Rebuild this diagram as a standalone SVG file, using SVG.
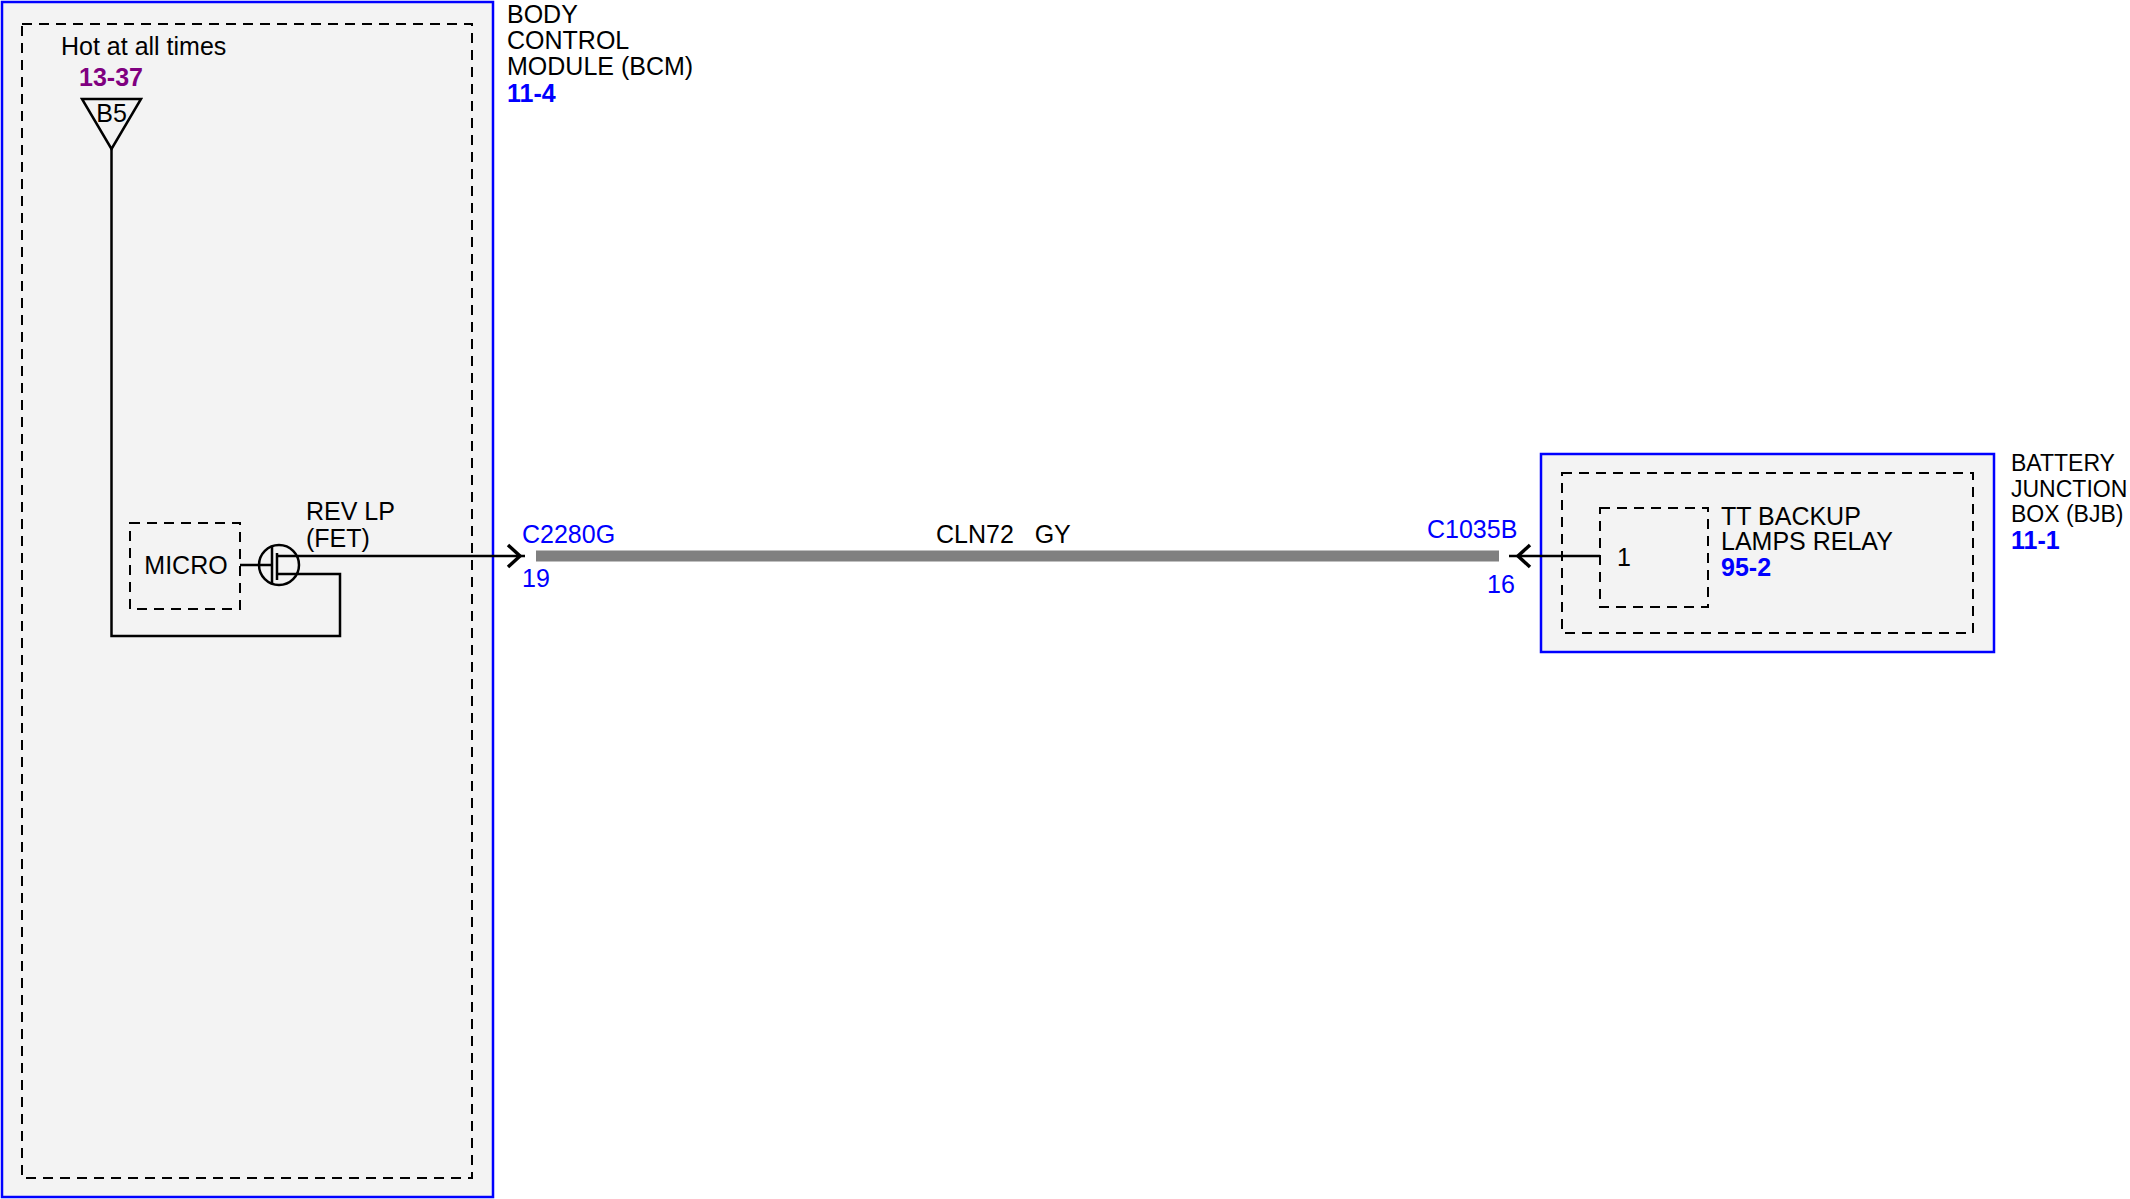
<svg xmlns="http://www.w3.org/2000/svg" width="2130" height="1199" viewBox="0 0 2130 1199">
<style>
text{font-family:"Liberation Sans",Arial,sans-serif;font-size:25px;fill:#000}
.b{fill:#0000ff}
.bb{fill:#0000ff;font-weight:bold}
.p{fill:#800080;font-weight:bold}
.sm{font-size:23px}
.mod{fill:#f3f3f3;stroke:#0000ff;stroke-width:2.5}
.dash{fill:none;stroke:#000;stroke-width:2;stroke-dasharray:10,7}
.w{fill:none;stroke:#000;stroke-width:2.5}
.ch{fill:none;stroke:#000;stroke-width:3.5}
</style>
<rect width="2130" height="1199" fill="#fff"/>
<g id="bcm">
<rect class="mod" x="2" y="2" width="491" height="1195"/>
<rect class="dash" x="22" y="24" width="450" height="1154"/>
<text x="507" y="23">BODY</text>
<text x="507" y="49">CONTROL</text>
<text x="507" y="75">MODULE (BCM)</text>
<text class="bb" x="507" y="102">11-4</text>
<text x="61" y="55">Hot at all times</text>
<text class="p" x="79" y="86">13-37</text>
<path class="w" d="M82,99 L141,99 L111.5,149 Z"/>
<text x="111.5" y="122" text-anchor="middle">B5</text>
<rect class="dash" x="130" y="523" width="110" height="86"/>
<text x="186" y="574" text-anchor="middle">MICRO</text>
<text x="306" y="520">REV LP</text>
<text x="306" y="547">(FET)</text>
<circle class="w" cx="279" cy="565" r="20"/>
<path class="w" d="M240,565 H272 M272,547 V583 M277,553 V580"/>
</g>
<g id="bjb">
<rect class="mod" x="1541" y="454" width="453" height="198"/>
<rect class="dash" x="1562" y="473" width="411" height="160"/>
<rect class="dash" x="1600" y="508" width="108" height="99"/>
<text x="1617" y="566">1</text>
<text x="1721" y="525">TT BACKUP</text>
<text x="1721" y="550">LAMPS RELAY</text>
<text class="bb" x="1721" y="576">95-2</text>
<text class="sm" x="2011" y="471">BATTERY</text>
<text class="sm" x="2011" y="497">JUNCTION</text>
<text class="sm" x="2011" y="522">BOX (BJB)</text>
<text class="bb" x="2011" y="549">11-1</text>
</g>
<g id="connectors">
<path class="w" d="M111.5,149 V636 H340 V574 H277"/>
<path class="w" d="M277,556 H525"/>
<path class="ch" d="M508,545 L520,556 L508,567"/>
<line x1="536" y1="556" x2="1499" y2="556" stroke="#808080" stroke-width="11"/>
<path class="w" d="M1509,556 H1600"/>
<path class="ch" d="M1530,545 L1518,556 L1530,567"/>
<text class="b" x="522" y="543">C2280G</text>
<text class="b" x="522" y="587">19</text>
<text x="936" y="543" xml:space="preserve">CLN72   GY</text>
<text class="b" x="1427" y="538">C1035B</text>
<text class="b" x="1487" y="593">16</text>
</g>
</svg>
